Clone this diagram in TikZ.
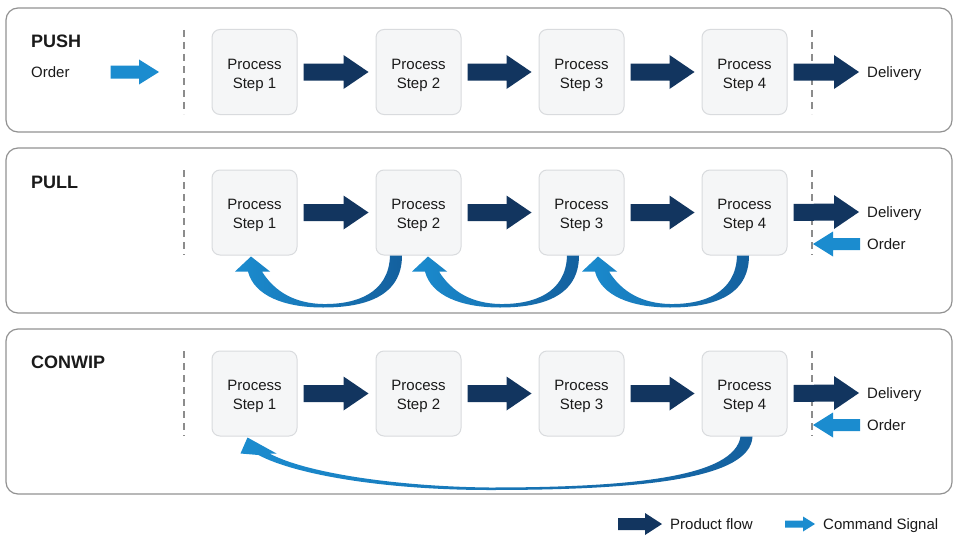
\documentclass[tikz,border=0pt]{standalone}
\usepackage{fontspec}
\setmainfont{Liberation Sans}
\usetikzlibrary{calc}
\definecolor{navy}{HTML}{12355F}
\definecolor{sky}{HTML}{1B8CCF}
\definecolor{skydark}{HTML}{14609E}
\definecolor{panelborder}{HTML}{929292}
\definecolor{boxborder}{HTML}{D9DBDE}
\definecolor{boxfill}{HTML}{F5F6F7}
\definecolor{dashgray}{HTML}{8C8C8C}
\definecolor{txt}{HTML}{1A1A1A}
% block arrow: color, from, to, half shaft, half head, head length (negative = leftward)
\newcommand\blockarrow[6]{%
  \fill[#1] ($(#2)+(0,{-(#4)})$) -- ($(#3)+({-(#6)},{-(#4)})$) -- ($(#3)+({-(#6)},{-(#5)})$) -- (#3) -- ($(#3)+({-(#6)},{#5})$) -- ($(#3)+({-(#6)},{#4})$) -- ($(#2)+(0,{#4})$) -- cycle;}
\newcommand\pullarc{%
  \shade[left color=sky, right color=skydark] (0,1) -- (19,16) -- (11,16) .. controls (24,37) and (45,48) .. (72,48.5) .. controls (105,49) and (138,38) .. (139,0) -- (151,0) .. controls (151,42) and (112,52) .. (72,52) .. controls (33,52) and (3,40) .. (-3,16) -- (-16,16) -- cycle;}
\tikzset{
  panel/.style={draw=panelborder, line width=1.2pt, rounded corners=12pt, fill=white},
  stepbox/.style={draw=boxborder, fill=boxfill, line width=1pt, rounded corners=8pt, minimum width=85pt, minimum height=85pt, align=center, text=txt, text height=36pt, font=\fontsize{15}{19}\selectfont},
  lbl/.style={inner sep=0pt, text=txt, text height=10.7pt, text depth=0pt, font=\fontsize{15}{18}\selectfont},
  title/.style={inner sep=0pt, text=txt, text height=12.9pt, text depth=0pt, font=\fontsize{18}{22}\selectfont\bfseries},
  divider/.style={draw=dashgray, line width=1.5pt, dash pattern=on 7pt off 5pt},
}
\begin{document}
\begin{tikzpicture}[x=1pt,y=-1pt]
\useasboundingbox (0,0) rectangle (960,551);
\fill[white] (0,0) rectangle (960,551);
% panels
\draw[panel] (6,8) rectangle (952,132);
\draw[panel] (6,148) rectangle (952,313);
\draw[panel] (6,329) rectangle (952,494);
% titles
\node[title, anchor=west] (tpush) at (31,41) {PUSH};
\node[title, anchor=west] (tpull) at (31,182) {PULL};
\node[title, anchor=west] (tcon) at (31,362) {CONWIP};
% dividers
\draw[divider] (184,30) -- (184,114);
\draw[divider] (812,30) -- (812,114);
\draw[divider] (184,170) -- (184,255);
\draw[divider] (812,170) -- (812,255);
\draw[divider] (184,351) -- (184,436);
\draw[divider] (812,351) -- (812,436);
% step boxes
\foreach \r/\y in {a/72,b/212.5,c/393.5}{
  \node[stepbox] (\r1) at (254.5,\y) {Process\\Step 1};
  \node[stepbox] (\r2) at (418.5,\y) {Process\\Step 2};
  \node[stepbox] (\r3) at (581.5,\y) {Process\\Step 3};
  \node[stepbox] (\r4) at (744.5,\y) {Process\\Step 4};
}
% delivery labels
\node[lbl, anchor=west] (adel) at (867,72) {Delivery};
\node[lbl, anchor=west] (bdel) at (867,212) {Delivery};
\node[lbl, anchor=west] (cdel) at (867,393) {Delivery};
% order labels
\node[lbl, anchor=west] (aord) at (31,72) {Order};
\node[lbl, anchor=west] (bord) at (867,244) {Order};
\node[lbl, anchor=west] (cord) at (867,425) {Order};
% product flow arrows
\foreach \r in {a,b,c}{
  \foreach \i/\j in {1/2,2/3,3/4}{
    \coordinate (\r s\i) at ($(\r\i.east)+(6,0)$);
    \coordinate (\r e\i) at ($(\r\j.west)+(-7,0)$);
    \blockarrow{navy}{\r s\i}{\r e\i}{8.5}{17}{25}
  }
  \coordinate (\r ds) at ($(\r4.east)+(6,0)$);
  \coordinate (\r de) at ($(\r del.west)+(-8,0)$);
  \blockarrow{navy}{\r ds}{\r de}{8.5}{17}{25}
}
% order (command) arrows
\coordinate (aos) at ($(aord.east)+(41,0)$);
\coordinate (aoe) at (159,72);
\blockarrow{sky}{aos}{aoe}{6.5}{12.5}{20}
\foreach \r/\y in {b/244,c/425}{
  \coordinate (\r os) at ($(\r ord.west)+(-7,0)$);
  \coordinate (\r oe) at (813,\y);
  \blockarrow{sky}{\r os}{\r oe}{6}{12.5}{-20}
}
% pull kanban arcs
\begin{scope}[shift={($(b1.south)+(-3.5,0)$)}] \pullarc \end{scope}
\begin{scope}[shift={($(b2.south)+(9.5,0)$)}] \pullarc \end{scope}
\begin{scope}[shift={($(b3.south)+(16.5,0)$)}] \pullarc \end{scope}
% conwip arc
\begin{scope}[shift={(c1.south)}]
  \shade[left color=sky, right color=skydark] (-7,1) -- (22,17) -- (15,17) .. controls (50,36) and (140,50) .. (235,51) .. controls (380,51) and (480,40) .. (486,0) -- (498,0) .. controls (496,42) and (390,53.5) .. (235,53.5) .. controls (130,53.5) and (40,38) .. (4,18.5) -- (-14,17) -- cycle;
\end{scope}
% legend
\node[lbl, anchor=west] (lprod) at (670,524) {Product flow};
\node[lbl, anchor=west] (lcmd) at (823,524) {Command Signal};
\coordinate (lps) at ($(lprod.west)+(-52,0)$);
\coordinate (lpe) at ($(lprod.west)+(-8,0)$);
\blockarrow{navy}{lps}{lpe}{6}{11}{17}
\coordinate (lcs) at ($(lcmd.west)+(-38,0)$);
\coordinate (lce) at ($(lcmd.west)+(-8,0)$);
\blockarrow{sky}{lcs}{lce}{3.5}{7.5}{12}
\end{tikzpicture}
\end{document}
